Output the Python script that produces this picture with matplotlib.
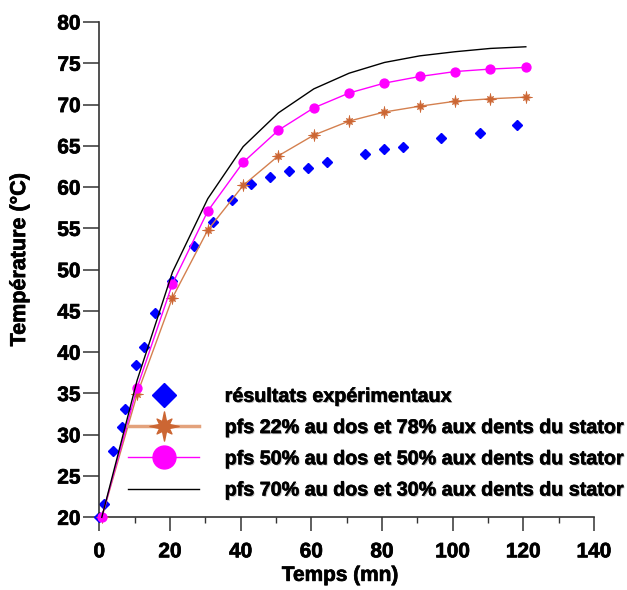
import numpy as np
import matplotlib
matplotlib.use("Agg")
import matplotlib.pyplot as plt
from matplotlib.lines import Line2D
from matplotlib.path import Path
from matplotlib.ticker import MultipleLocator
import matplotlib.patheffects as pe

plt.rcParams['font.family'] = ['Liberation Sans', 'DejaVu Sans']
plt.rcParams['font.weight'] = 'bold'

# Measured temperatures (experimental)
t_exp = [0, 1.2, 4.0, 6.3, 7.3, 10.5, 12.6, 15.7, 20.5, 26.8, 32.1, 37.6, 43.0,
         48.4, 53.8, 59.1, 64.5, 75.2, 80.6, 86.0, 96.8, 107.6, 118.3]
T_exp = [20.0, 21.6, 28.0, 30.9, 33.1, 38.5, 40.6, 44.7, 48.6, 52.9, 55.8, 58.4, 60.4,
         61.2, 61.9, 62.3, 63.0, 64.0, 64.6, 64.9, 65.9, 66.5, 67.5]

# Simulated temperatures for three iron-loss distributions
t_sim = [0.7, 10.7, 20.7, 30.7, 40.7, 50.7, 60.7, 70.7, 80.7, 90.7, 100.7, 110.7, 120.7]
T_22 = [20.0, 34.9, 46.6, 54.8, 60.2, 63.8, 66.3, 68.0, 69.1, 69.8, 70.4, 70.7, 70.9]
T_50 = [20.0, 35.7, 48.3, 57.1, 63.0, 66.9, 69.6, 71.4, 72.6, 73.4, 74.0, 74.3, 74.5]
T_70 = [20.0, 36.6, 49.7, 58.6, 64.9, 69.0, 71.9, 73.8, 75.1, 75.9, 76.4, 76.8, 77.0]

labels = ["résultats expérimentaux",
          "pfs 22% au dos et 78% aux dents du stator",
          "pfs 50% au dos et 50% aux dents du stator",
          "pfs 70% au dos et 30% aux dents du stator"]

x_ticks = [0, 20, 40, 60, 80, 100, 120, 140]
y_ticks = [20, 25, 30, 35, 40, 45, 50, 55, 60, 65, 70, 75, 80]

C_EXP = '#0000FF'
C_22 = '#CC6633'
C_22_LINE = '#D4804F'
C_50 = '#FF00FF'
C_70 = '#000000'

# 8-point burst marker: long horizontal/vertical rays, shorter diagonals
ang = np.deg2rad(np.arange(16) * 22.5 + 90)
rad = np.array([1.0 if k % 4 == 0 else (0.72 if k % 2 == 0 else 0.36) for k in range(16)])
verts = np.column_stack([rad * np.cos(ang), rad * np.sin(ang)])
verts = np.vstack([verts, verts[:1]])
codes = [Path.MOVETO] + [Path.LINETO] * 15 + [Path.CLOSEPOLY]
burst = Path(verts, codes)

heavy = [pe.withStroke(linewidth=0.5, foreground='black')]

fig = plt.figure(figsize=(6.27, 5.90), dpi=100)
ax = fig.add_axes([0.1584, 0.1232, 0.7890, 0.8395])

ax.plot(t_exp, T_exp, ls='none', marker='D', ms=5.6, color=C_EXP, zorder=2, clip_on=False)
ax.plot(t_sim, T_22, color=C_22_LINE, lw=1.0, marker=burst, ms=9, mfc=C_22, mec=C_22,
        mew=0.4, zorder=3, clip_on=False)
ax.plot(t_sim, T_50, color=C_50, lw=1.0, marker='o', ms=6.4, mfc=C_50, mec=C_50,
        zorder=3, clip_on=False)
ax.plot(t_sim, T_70, color=C_70, lw=1.0, zorder=4, clip_on=False)

ax.set_xlim(0, 140)
ax.set_ylim(20, 80)
ax.set_xticks(x_ticks)
ax.set_yticks(y_ticks)
ax.xaxis.set_minor_locator(MultipleLocator(10))

for s in ('top', 'right'):
    ax.spines[s].set_visible(False)
for s in ('left', 'bottom'):
    ax.spines[s].set_linewidth(1.2)
    ax.spines[s].set_color('#333333')

ax.tick_params(axis='y', which='major', direction='out', length=11.5, width=1.1,
               pad=2, labelsize=15, color='#333333')
ax.tick_params(axis='x', which='major', direction='out', length=10, width=1.1,
               pad=8, labelsize=15, color='#333333')
ax.tick_params(axis='x', which='minor', direction='out', length=4, width=1.0,
               color='#333333')
for lab in ax.get_xticklabels() + ax.get_yticklabels():
    lab.set_fontweight('bold')
    lab.set_path_effects(heavy)

xl = ax.set_xlabel("Temps (mn)", fontsize=15, fontweight='bold')
yl = ax.set_ylabel("Température (°C)", fontsize=15.5, fontweight='bold')
xl.set_path_effects(heavy)
yl.set_path_effects(heavy)
ax.xaxis.set_label_coords(0.487, -0.098)
ax.yaxis.set_label_coords(-0.140, 0.52)

handles = [
    Line2D([], [], ls='none', marker='D', ms=12, color=C_EXP),
    Line2D([], [], color='#E3A27C', lw=2.5, marker=burst, ms=21, mfc=C_22, mec=C_22),
    Line2D([], [], color=C_50, lw=1.0, marker='o', ms=16.5, mfc=C_50, mec=C_50),
    Line2D([], [], color=C_70, lw=1.0),
]
leg = ax.legend(handles, labels, loc='lower left', bbox_to_anchor=(0.058, 0.036),
                frameon=False, borderpad=0, borderaxespad=0, handlelength=3.6,
                handletextpad=1.3, labelspacing=0.62,
                prop={'size': 14.2, 'weight': 'bold'})
for txt in leg.get_texts():
    txt.set_path_effects([pe.SimplePatchShadow(offset=(0.8, -0.8), shadow_rgbFace='#888888',
                                               alpha=0.6),
                          pe.withStroke(linewidth=0.4, foreground='black')])

fig.savefig("out.png", dpi=100)
